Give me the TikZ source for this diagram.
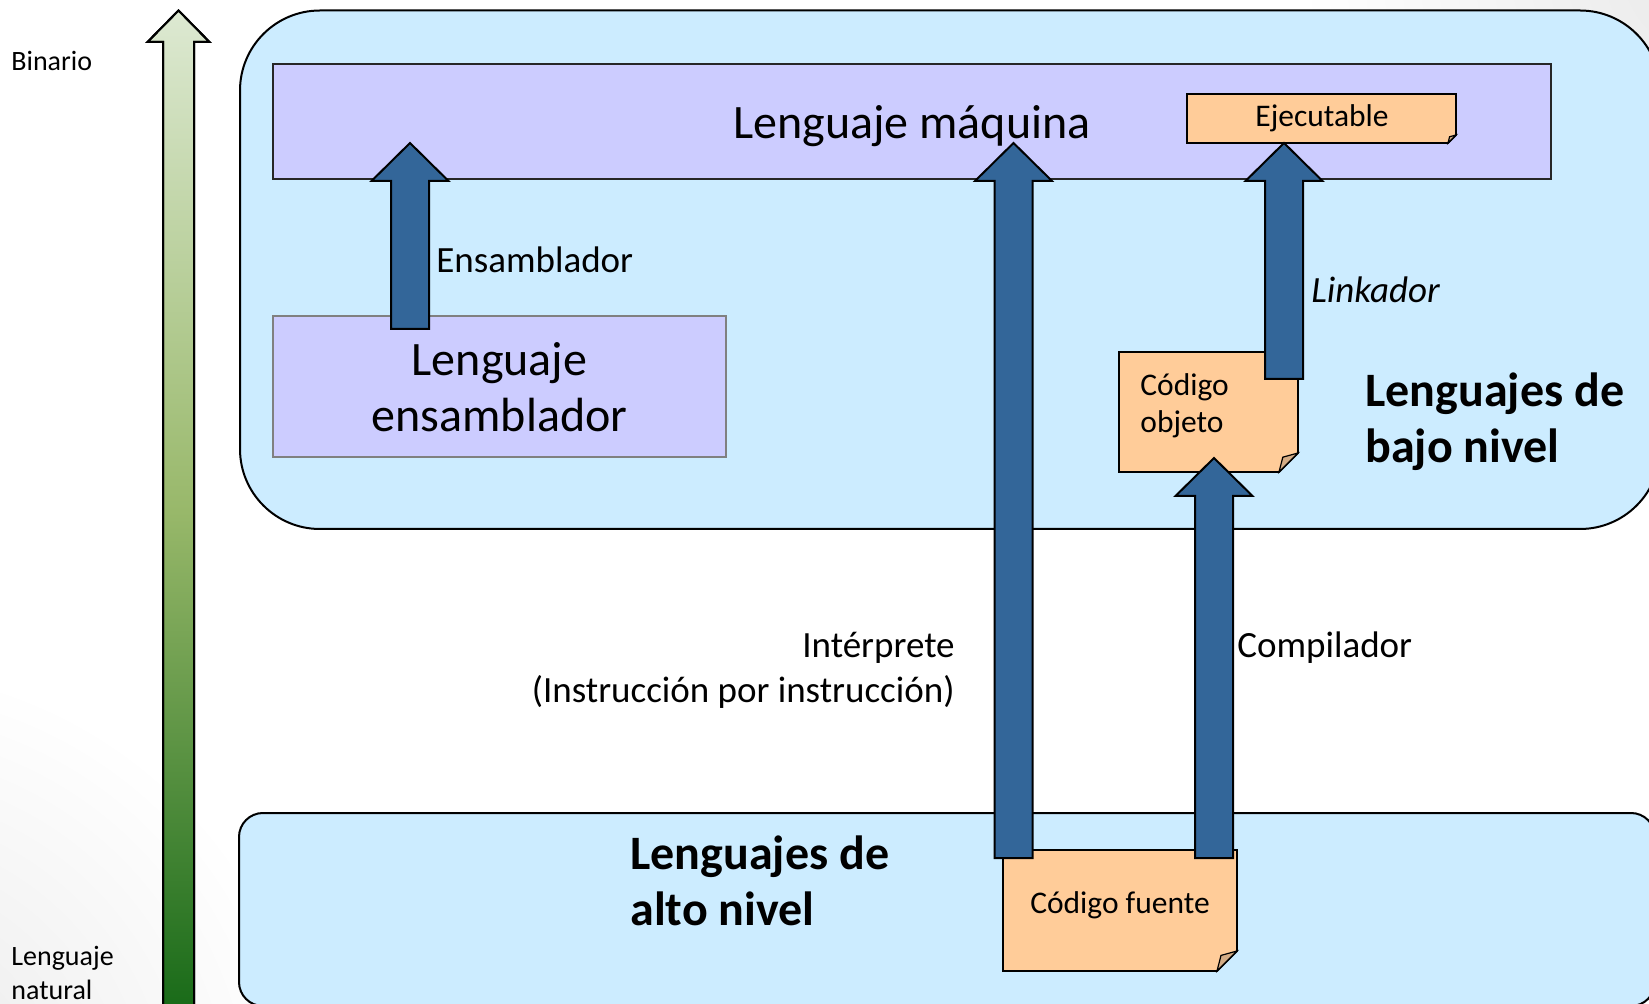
\documentclass[tikz,border=0pt]{standalone}
\usepackage{fontspec}
\setmainfont{Carlito}
\definecolor{boxblue}{HTML}{CCECFF}
\definecolor{lav}{HTML}{CCCCFF}
\definecolor{peach}{HTML}{FFCC99}
\definecolor{foldc}{HTML}{D4AC85}
\definecolor{arrblue}{HTML}{336699}
\definecolor{gtop}{HTML}{DDE9D2}
\definecolor{gmid}{HTML}{98B86A}
\definecolor{gbot}{HTML}{186A18}
\definecolor{glow}{HTML}{E8E8E8}
\pgfdeclareverticalshading{greenarrow}{100bp}{color(0bp)=(gbot); color(25bp)=(gbot); color(50bp)=(gmid); color(75bp)=(gtop); color(100bp)=(gtop)}
\pgfdeclareradialshading{softglow}{\pgfpoint{0bp}{0bp}}{color(0bp)=(glow); color(10bp)=(glow!60!white); color(25bp)=(white); color(50bp)=(white)}
% note with folded corner: x1 y1 x2 y2 fold
\newcommand{\foldnote}[5]{%
  \filldraw[notefill] (#1,#2) -- (#3,#2) -- (#3,#4-#5) -- (#3-#5,#4) -- (#1,#4) -- cycle;
  \filldraw[foldfill] (#3,#4-#5) -- (#3-0.8*#5,#4-0.78*#5) -- (#3-#5,#4) -- cycle;
}
% block arrow: centre x, bottom y, tip y
\newcommand{\blockarrow}[3]{%
  \filldraw[barrow] (#1-19,#2) -- (#1-19,#3+38) -- (#1-38.5,#3+38) -- (#1,#3)
    -- (#1+38.5,#3+38) -- (#1+19,#3+38) -- (#1+19,#2) -- cycle;
}
\begin{document}
\begin{tikzpicture}[x=0.5pt,y=-0.5pt,line join=miter,
  bigbox/.style={draw=black,line width=1pt,fill=boxblue,inner sep=0pt,outer sep=0pt},
  lavbox/.style={draw=black!85,line width=0.9pt,fill=lav,inner sep=0pt,outer sep=0pt},
  asmbox/.style={draw=black!50,line width=1pt,fill=lav,inner sep=0pt,outer sep=0pt},
  notefill/.style={draw=black,line width=0.9pt,fill=peach},
  foldfill/.style={draw=black,line width=0.6pt,fill=foldc},
  barrow/.style={draw=black,line width=1pt,fill=arrblue},
  garrow/.style={draw=black,line width=1pt,shading=greenarrow},
  side/.style={inner sep=0pt,font=\fontsize{14}{17}\selectfont},
  lbl/.style={inner sep=0pt,font=\fontsize{18.5}{22}\selectfont},
  notetxt/.style={inner sep=0pt,font=\fontsize{15.75}{19}\selectfont},
  bigtxt/.style={inner sep=0pt,font=\fontsize{24}{28.8}\selectfont},
  boldtxt/.style={inner sep=0pt,font=\fontsize{24}{28.8}\selectfont\bfseries}]
\useasboundingbox (0,0) rectangle (1649,1004);
\clip (0,0) rectangle (1649,1004);
\fill[white] (0,0) rectangle (1649,1004);
% faint background glows of the slide
\shade[shading=softglow] (-140,1120) circle (460);
\shade[shading=softglow] (1720,-40) circle (420);

% green scale arrow
\path[garrow] (163,1012) -- (163,42) -- (147.5,42) -- (178.5,10.5) -- (209.5,42) -- (194,42) -- (194,1012) -- cycle;
\draw[line width=1pt] (163,1012) -- (163,42) -- (147.5,42) -- (178.5,10.5) -- (209.5,42) -- (194,42) -- (194,1012);

% region boxes
\node[bigbox,rounded corners=40pt,minimum width=710pt,minimum height=259.25pt] (low) at (950,269.75) {};
\node[bigbox,rounded corners=12pt,minimum width=708pt,minimum height=96.5pt] (high) at (947,909.5) {};

% language boxes
\node[lavbox,minimum width=639pt,minimum height=57.5pt] (maq) at (912,121.5) {};
\node[asmbox,minimum width=226.5pt,minimum height=70.5pt] (asm) at (499.5,386.5) {};

% notes
\foldnote{1187}{94}{1456}{143}{8}
\foldnote{1119}{352}{1298}{472}{19}
\foldnote{1003}{850}{1237}{971}{20}

% arrows
\blockarrow{410}{329}{143}
\blockarrow{1013.5}{858}{143}
\blockarrow{1284}{379}{143}
\blockarrow{1214}{858}{458}

% texts
\node[side,anchor=base west] (bin) at (11,71) {Binario};
\node[side,anchor=base west] (nat1) at (11,965) {Lenguaje};
\node[side,anchor=base west] (nat2) at (11,999) {natural};

\node[bigtxt,anchor=base] (maqt) at (912,139) {Lenguaje máquina};
\node[notetxt,anchor=base] (ejec) at (1322,127) {Ejecutable};
\node[lbl,anchor=base west] (ens) at (436,273) {Ensamblador};
\node[bigtxt,anchor=base] (asm1) at (499.5,376) {Lenguaje};
\node[bigtxt,anchor=base] (asm2) at (499.5,432) {ensamblador};
\node[lbl,anchor=base west,font=\fontsize{18.5}{22}\selectfont\itshape] (link) at (1311,303) {Linkador};
\node[notetxt,anchor=base west] (obj1) at (1140,396) {Código};
\node[notetxt,anchor=base west] (obj2) at (1140,433) {objeto};
\node[boldtxt,anchor=base west] (bajo1) at (1365,407) {Lenguajes de};
\node[boldtxt,anchor=base west] (bajo2) at (1365,463) {bajo nivel};
\node[lbl,anchor=base east] (int1) at (955,658) {Intérprete};
\node[lbl,anchor=base east] (int2) at (955,703) {(Instrucción por instrucción)};
\node[lbl,anchor=base west] (comp) at (1237,658) {Compilador};
\node[boldtxt,anchor=base west] (alto1) at (630,869) {Lenguajes de};
\node[boldtxt,anchor=base west] (alto2) at (630,925) {alto nivel};
\node[notetxt,anchor=base] (fuente) at (1120,913) {Código fuente};
\end{tikzpicture}
\end{document}
